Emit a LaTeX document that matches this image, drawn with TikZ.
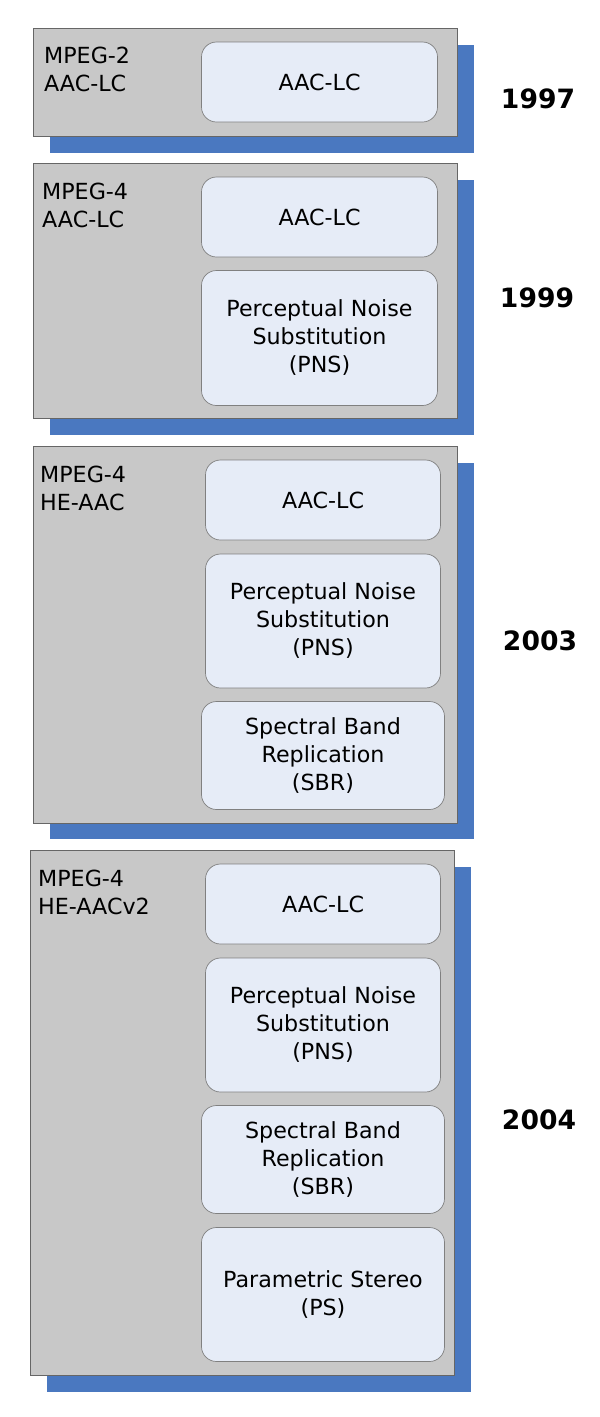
\documentclass[tikz,border=0pt]{standalone}
\usepackage{fontspec}
\setmainfont{DejaVu Sans}
\usepackage{tikz}
\usetikzlibrary{positioning}

\definecolor{panelgray}{HTML}{C8C8C8}
\definecolor{shadowblue}{HTML}{4A78C0}
\definecolor{toolfill}{HTML}{E6ECF7}

\begin{document}
\begin{tikzpicture}[x=1pt, y=-1pt,
  shade/.style = {fill=shadowblue},
  panel/.style = {fill=panelgray, draw=black!60, line width=0.9pt},
  tool/.style = {draw=black!50, fill=toolfill, rounded corners=15pt, line width=0.7pt,
    align=center, inner sep=0pt, font=\fontsize{22.2}{28}\selectfont},
  profile/.style = {anchor=north west, align=left, inner sep=0pt,
    font=\fontsize{22.2}{28}\selectfont},
  year/.style = {inner sep=0pt, font=\fontsize{26.6}{30}\selectfont\bfseries}]
\useasboundingbox (0,0) rectangle (600,1417);

% 1997
\fill[shade] (50,45) rectangle (474,153);
\draw[panel] (33,28) rectangle (457,136);
\node[profile] (p1) at (44,47) {MPEG-2\\AAC-LC};
\node[tool, minimum width=236, minimum height=80] (lc1) at (319.5,82) {AAC-LC};
\node[year] (y1) at (538,99) {1997};

% 1999
\fill[shade] (50,180) rectangle (474,435);
\draw[panel] (33,163) rectangle (457,418);
\node[profile] (p2) at (42,183) {MPEG-4\\AAC-LC};
\node[tool, minimum width=236, minimum height=80] (lc2) at (319.5,217) {AAC-LC};
\node[tool, minimum width=236, minimum height=135] (pns2) at (319.5,338) {Perceptual Noise\\Substitution\\(PNS)};
\node[year] (y2) at (537,298) {1999};

% 2003
\fill[shade] (50,463) rectangle (474,839);
\draw[panel] (33,446) rectangle (457,823);
\node[profile] (p3) at (40,466) {MPEG-4\\HE-AAC};
\node[tool, minimum width=235, minimum height=80] (lc3) at (323,500) {AAC-LC};
\node[tool, minimum width=235, minimum height=134] (pns3) at (323,621) {Perceptual Noise\\Substitution\\(PNS)};
\node[tool, minimum width=243, minimum height=108] (sbr3) at (323,755.5) {Spectral Band\\Replication\\(SBR)};
\node[year] (y3) at (540,641) {2003};

% 2004
\fill[shade] (47,867) rectangle (471,1392);
\draw[panel] (30,850) rectangle (454,1375);
\node[profile] (p4) at (38,870) {MPEG-4\\HE-AACv2};
\node[tool, minimum width=235, minimum height=80] (lc4) at (323,904) {AAC-LC};
\node[tool, minimum width=235, minimum height=134] (pns4) at (323,1025) {Perceptual Noise\\Substitution\\(PNS)};
\node[tool, minimum width=243, minimum height=108] (sbr4) at (323,1159.5) {Spectral Band\\Replication\\(SBR)};
\node[tool, minimum width=243, minimum height=134] (ps4) at (323,1294.5) {Parametric Stereo\\(PS)};
\node[year] (y4) at (539,1120) {2004};
\end{tikzpicture}
\end{document}
